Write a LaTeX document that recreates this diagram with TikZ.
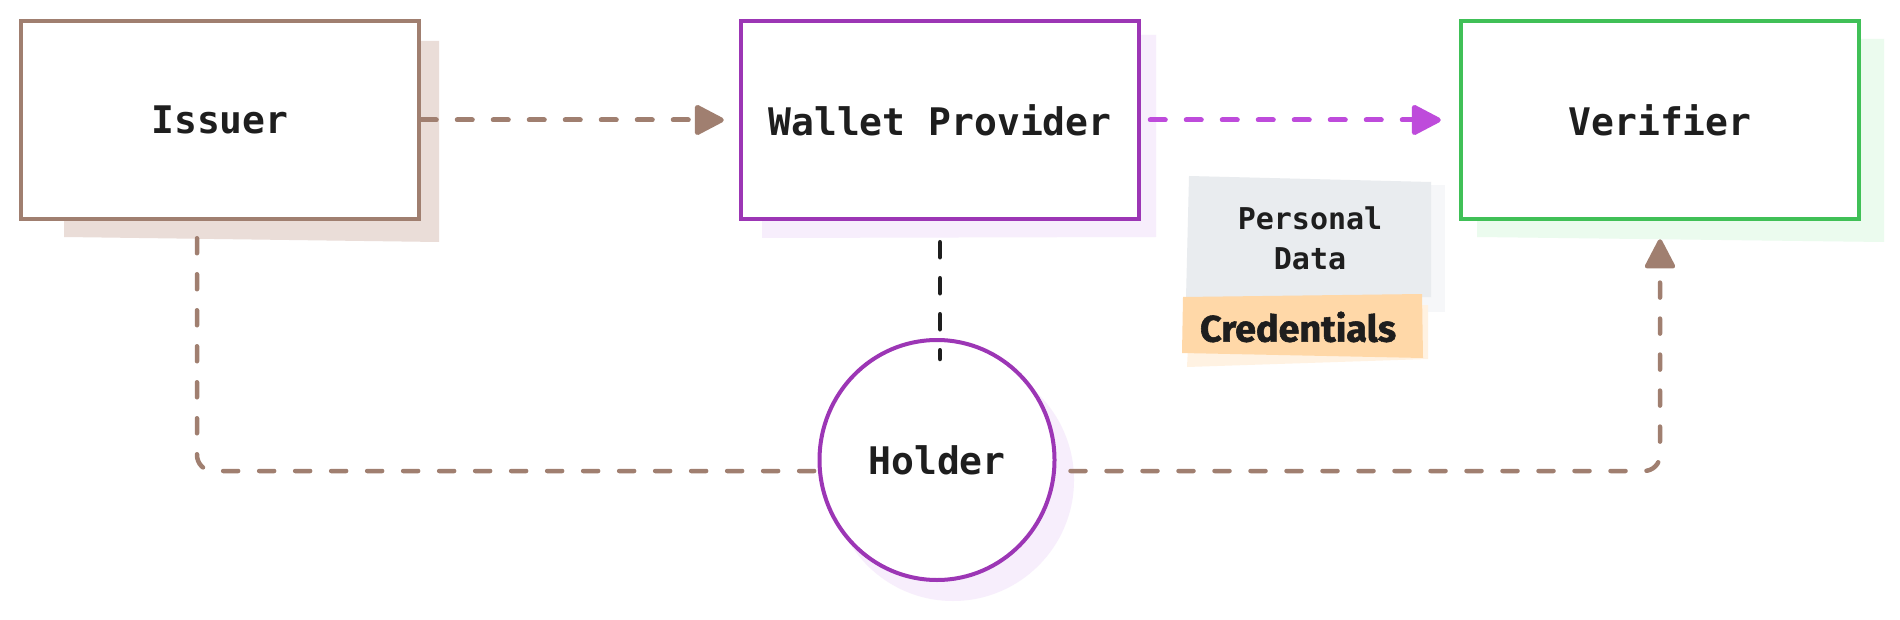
\documentclass[tikz,border=0pt]{standalone}
\usepackage{fontspec}
\usepackage{graphicx}
\setmonofont{DejaVu Sans Mono}
\newfontfamily\credfont{Fira Sans}[BoldFeatures={FakeBold=1.5}]
\usetikzlibrary{arrows.meta,shapes.geometric}
\definecolor{ink}{HTML}{1E1E1E}
\definecolor{brownS}{HTML}{A07F70}
\definecolor{brownSh}{HTML}{EADDD8}
\definecolor{purpleS}{HTML}{9C36B5}
\definecolor{purpleSh}{HTML}{F7EEFC}
\definecolor{magentaS}{HTML}{BE4BDB}
\definecolor{greenS}{HTML}{40C057}
\definecolor{greenSh}{HTML}{EBFBEE}
\definecolor{grayN}{HTML}{E9ECEF}
\definecolor{grayNSh}{HTML}{F6F7F9}
\definecolor{orangeN}{HTML}{FFD8A8}
\definecolor{orangeNSh}{HTML}{FFF2E2}
\tikzset{
  box/.style={draw, line width=4.5pt, fill=white, minimum width=398pt, minimum height=198pt,
    inner sep=0pt, text=ink, font=\ttfamily\bfseries\fontsize{38}{40}\selectfont},
  flow/.style={line width=5pt, dash pattern=on 15pt off 21pt, line cap=round},
  arrowend/.style={-{Triangle[length=32pt,width=32pt,round]}},
  notetext/.style={text=ink, align=center, inner sep=0pt, font=\ttfamily\bfseries\fontsize{30}{40}\selectfont}
}
\begin{document}
\begin{tikzpicture}[x=1pt,y=-1pt]
\useasboundingbox (0,0) rectangle (1900,620);
\fill[white] (0,0) rectangle (1900,620);
% shadows
\fill[brownSh] (64,41) -- (439,41) -- (439,242) -- (64,237) -- cycle;
\fill[purpleSh] (762,35) -- (1156,35) -- (1156,237) -- (762,238) -- cycle;
\fill[greenSh] (1477,39) -- (1884,39) -- (1884,242) -- (1477,237) -- cycle;
\fill[purpleSh] (953,480) ellipse [x radius=121, y radius=121];
% sticky notes
\fill[grayNSh] (1200,185) -- (1445,185) -- (1445,312) -- (1200,312) -- cycle;
\fill[grayN] (1189,176) -- (1431,182) -- (1431,297) -- (1186,298) -- cycle;
\fill[orangeNSh] (1190,305) -- (1428,305) -- (1428,359) -- (1187,367) -- cycle;
\fill[orangeN] (1183,297) -- (1422,294) -- (1423,358) -- (1182,353) -- cycle;
% nodes
\node[box, draw=brownS] (Issuer) at (220,120) {Issuer};
\node[box, draw=purpleS] (Wallet) at (940,120) {Wallet Provider};
\node[box, draw=greenS] (Verifier) at (1660,120) {Verifier};
\node[ellipse, draw=purpleS, line width=4pt, fill=white, minimum width=235pt, minimum height=240pt,
  inner sep=0pt, text=ink, font=\ttfamily\bfseries\fontsize{38}{40}\selectfont] (Holder) at (937,460) {Holder};
\node[notetext] (PD) at (1310,238) {Personal\\Data};
\node[inner sep=0pt, text=ink] (Cred) at (1298,327) {\resizebox{196pt}{30pt}{\credfont\bfseries Credentials}};
% connectors
\coordinate (hy) at (0,471);
\draw[flow, brownS, arrowend] (Issuer.east) -- ([xshift=-15pt]Wallet.west);
\draw[flow, magentaS, arrowend] ([xshift=9pt]Wallet.east) -- ([xshift=-18pt]Verifier.west);
\draw[flow, ink, line width=4.5pt] ([yshift=-21pt]Wallet.south) -- ([yshift=-21pt]Wallet.south |- Holder.north);
\draw[flow, brownS, line width=4.5pt, rounded corners=16pt]
  ([shift={(-23pt,-17pt)}]Issuer.south) |- (Holder.west |- hy);
\draw[flow, brownS, line width=4.5pt, arrowend, rounded corners=16pt]
  ([xshift=14pt]Holder.east |- hy) -| ([yshift=-18pt]Verifier.south);
\end{tikzpicture}
\end{document}
